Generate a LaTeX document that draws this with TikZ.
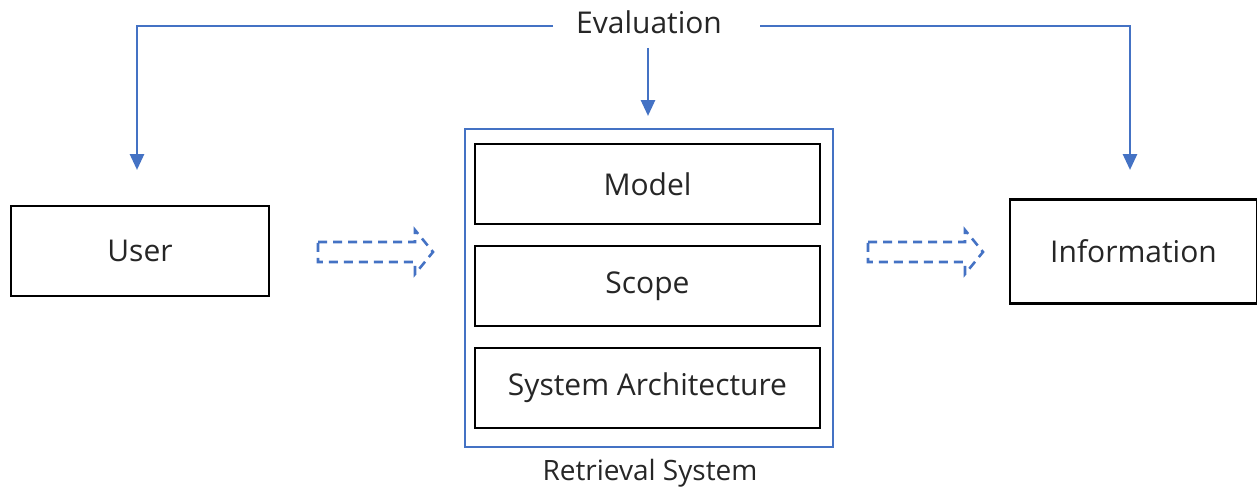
\documentclass[tikz,border=0pt]{standalone}
\usepackage{fontspec}
\setmainfont{Open Sans}
\usetikzlibrary{arrows.meta}
\definecolor{flowblue}{HTML}{4472C4}
\begin{document}
\begin{tikzpicture}[x=1pt,y=-1pt,
  box/.style={draw=black,line width=2.4pt,inner sep=0pt,text=black!85,font=\fontsize{30}{34}\selectfont},
  feedback/.style={draw=flowblue,line width=2.8pt,-{Triangle[width=14pt,length=16pt]}},
  hollow/.style={draw=flowblue,line width=2.6pt,dash pattern=on 9pt off 6pt,line join=miter},
  lbl/.style={inner sep=0pt,font=\fontsize{30}{34}\selectfont,text=black!85}]
\useasboundingbox (0,0) rectangle (1257,487);
% main boxes
\node[box,minimum width=258pt,minimum height=90pt] (user) at (140,251) {User};
\node[box,minimum width=247pt,minimum height=104pt] (info) at (1133.5,251.5) {Information};
\node[draw=flowblue,line width=2.4pt,minimum width=368pt,minimum height=318pt,inner sep=0pt] (rs) at (649,288) {};
\node[box,minimum width=345pt,minimum height=80pt] (model) at (647.5,184) {Model};
\node[box,minimum width=345pt,minimum height=80pt] (scope) at (647.5,286) {Scope};
\node[box,minimum width=345pt,minimum height=80pt] (arch) at (647.5,388) {System Architecture};
\node[lbl,font=\fontsize{28}{32}\selectfont] (rslabel) at (650,473) {Retrieval System};
\node[lbl] (eval) at (649,22) {Evaluation};
% feedback connectors
\coordinate (eL) at (553,26);
\coordinate (eR) at (760,26);
\coordinate (eB) at (648,48);
\coordinate (uTip) at (137,170);
\coordinate (iTip) at (1130,170);
\coordinate (rTip) at (648,116);
\draw[feedback] (eL) -| (uTip);
\draw[feedback] (eR) -| (iTip);
\draw[feedback] (eB) -- (rTip);
% hollow dashed arrows
\draw[hollow] (318,242) -- (415,242) -- (415,230) -- (433,252) -- (415,274) -- (415,262) -- (318,262) -- cycle;
\draw[hollow] (868,242) -- (965,242) -- (965,230) -- (983,252) -- (965,274) -- (965,262) -- (868,262) -- cycle;
\end{tikzpicture}
\end{document}
